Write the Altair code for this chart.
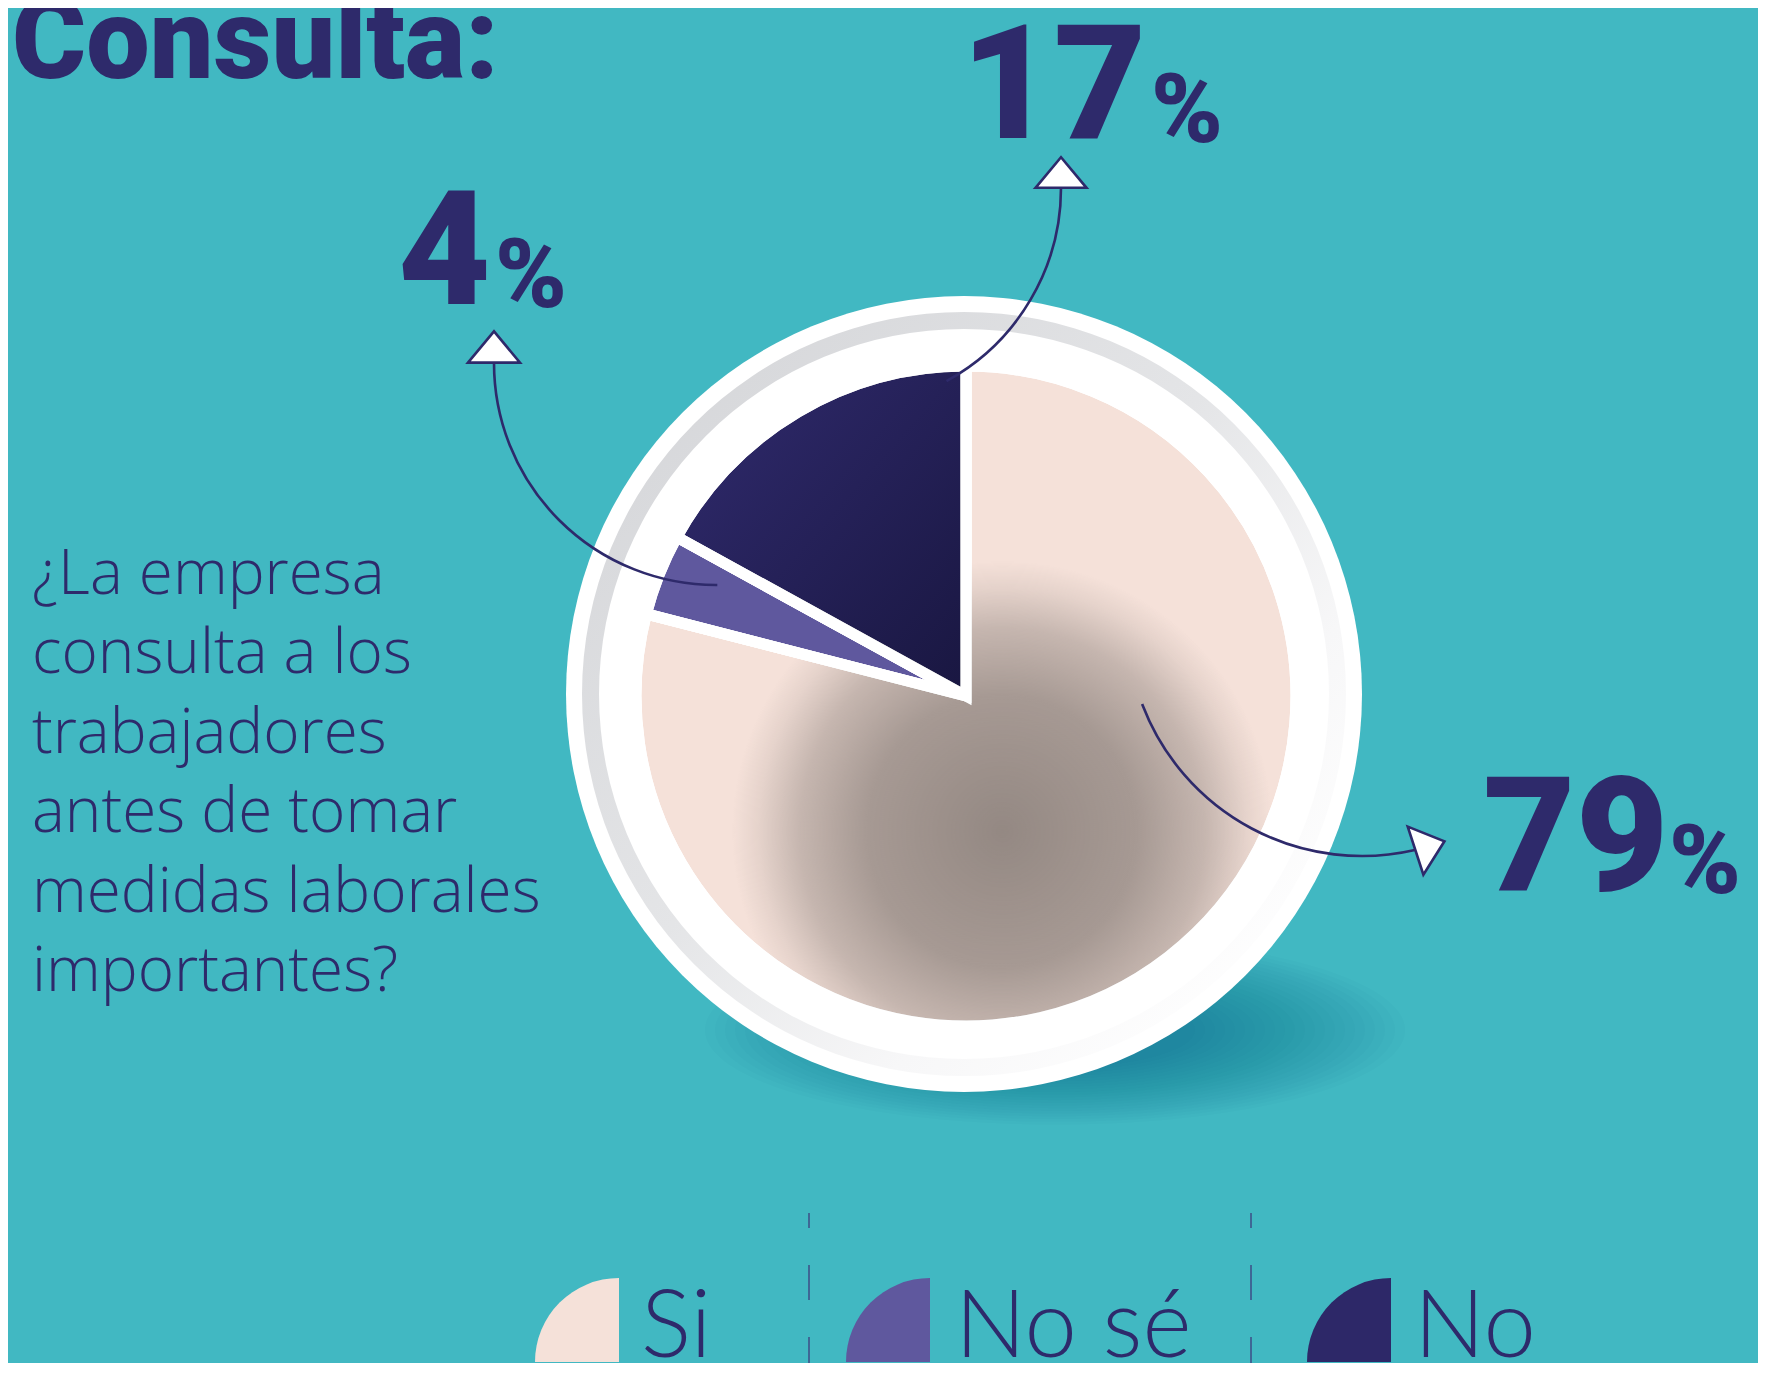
import math
import altair as alt
import pandas as pd

# ---------------- data ----------------
respuestas = ["Si", "No sé", "No"]
porcentajes = [79, 4, 17]
colores = ["#F5E1D9", "#5F589E", "#2D2868"]
titulo = "Consulta:"
pregunta = ["¿La empresa", "consulta a los", "trabajadores",
            "antes de tomar", "medidas laborales", "importantes?"]

# ---------------- layout / style ----------------
BG = "#41B8C2"
NAVY = "#2E2A6B"
W, H = 1750, 1355
OFF = 8
HEAVY = "Roboto"


def px(v):
    return v - OFF


def rad(d):
    return d * math.pi / 180.0


CX, CY = 966, 696          # pie centre (page px)
PIE_R = 330
TRI = "M-1,0.6L0,-0.6L1,0.6Z"
ELLIPSE = "M-1,0A1,0.27,0,1,1,1,0A1,0.27,0,1,1,-1,0Z"

pie_df = pd.DataFrame({"respuesta": respuestas,
                       "porcentaje": porcentajes,
                       "orden": list(range(len(respuestas)))})
one = pd.DataFrame({"k": [0]})

color_scale = alt.Scale(domain=respuestas, range=colores)
layers = []

# soft shadow under the plate: nested translucent ellipses
for i in range(22):
    semi = 350 - 10 * i
    layers.append(alt.Chart(one).mark_point(
        shape=ELLIPSE, size=(2 * semi) ** 2, filled=True,
        fill="#14606B", opacity=0.023, strokeWidth=0).encode(
        x=alt.value(px(1055)), y=alt.value(px(1030))))

# white plate
layers.append(alt.Chart(one).mark_arc(
    fill="white", radius=398, theta=0, theta2=2 * math.pi).encode(
    x=alt.value(px(964)), y=alt.value(px(694))))

# grey ring
ring_grad = {"gradient": "linear", "x1": 0.1, "y1": 0.1, "x2": 0.9, "y2": 0.9,
             "stops": [{"offset": 0, "color": "#D6D7DA"},
                       {"offset": 0.45, "color": "#E4E5E7"},
                       {"offset": 0.75, "color": "#F7F7F8"},
                       {"offset": 1, "color": "#FFFFFF"}]}
layers.append(alt.Chart(one).mark_arc(
    fill=ring_grad, radius=382, radius2=365, theta=0, theta2=2 * math.pi).encode(
    x=alt.value(px(964)), y=alt.value(px(694))))

# pie
theta_enc = alt.Theta("porcentaje:Q", stack=True)
layers.append(alt.Chart(pie_df).mark_arc(
    radius=PIE_R, stroke="white", strokeWidth=11).encode(
    theta=theta_enc,
    color=alt.Color("respuesta:N", scale=color_scale, legend=None),
    order=alt.Order("orden:Q"),
    x=alt.value(px(CX)), y=alt.value(px(CY))))

# grain shading
grad_si = {"gradient": "radial", "x1": 0.555, "y1": 0.705, "r1": 0,
           "x2": 0.555, "y2": 0.705, "r2": 0.41,
           "stops": [{"offset": 0, "color": "rgba(88,82,78,0.62)"},
                     {"offset": 0.5, "color": "rgba(88,82,78,0.5)"},
                     {"offset": 0.75, "color": "rgba(88,82,78,0.3)"},
                     {"offset": 0.9, "color": "rgba(88,82,78,0.1)"},
                     {"offset": 1, "color": "rgba(88,82,78,0)"}]}
grad_no = {"gradient": "linear", "x1": 0.15, "y1": 0.15, "x2": 1, "y2": 1,
           "stops": [{"offset": 0, "color": "rgba(5,5,25,0)"},
                     {"offset": 1, "color": "rgba(5,5,25,0.5)"}]}
layers.append(alt.Chart(pie_df).mark_arc(
    radius=PIE_R, stroke="white", strokeWidth=11).encode(
    theta=theta_enc,
    order=alt.Order("orden:Q"),
    fill=alt.when(alt.datum.respuesta == "Si").then(alt.value(grad_si))
    .when(alt.datum.respuesta == "No").then(alt.value(grad_no))
    .otherwise(alt.value("transparent")),
    x=alt.value(px(CX)), y=alt.value(px(CY))))

# arrows (arc curves + triangle heads)
arrows = [
    # centre x, centre y, radius, theta from, theta to
    (841, 188, 220, 90, 151),
    (716, 363, 222, 180, 270),
    (1362, 621, 235, 167, 249),
]
for ax_, ay_, r_, t1, t2 in arrows:
    layers.append(alt.Chart(one).mark_arc(
        radius=r_, radius2=r_ - 0.01, theta=rad(t1), theta2=rad(t2),
        fillOpacity=0, stroke=NAVY, strokeWidth=2.6, strokeCap="round").encode(
        x=alt.value(px(ax_)), y=alt.value(px(ay_))))

heads = [
    (1061, 172.5, 2601, 0),
    (494, 347, 2704, 0),
    (1430, 846, 2560, 72),
]
for hx, hy, hs, ha in heads:
    layers.append(alt.Chart(one).mark_point(
        shape=TRI, size=hs, angle=ha, filled=True, fill="white",
        stroke=NAVY, strokeWidth=2.6, opacity=1).encode(
        x=alt.value(px(hx)), y=alt.value(px(hy))))

# title
layers.append(alt.Chart(one).mark_text(
    text=titulo, font=HEAVY, fontWeight=900, fontSize=113, color=NAVY,
    align="left", baseline="alphabetic").encode(
    x=alt.value(px(12)), y=alt.value(px(78))))

# question
layers.append(alt.Chart(one).mark_text(
    text=pregunta, font="Open Sans", fontWeight=300, fontSize=62, color=NAVY,
    align="left", baseline="alphabetic", lineHeight=79.4).encode(
    x=alt.value(px(32)), y=alt.value(px(594))))

# percentage labels
num_pos = {"Si": (1483, 890, 1669, 893),
           "No sé": (398, 304, 495, 307),
           "No": (961, 138, 1151, 142)}
for cat, val in zip(respuestas, porcentajes):
    nx, ny, qx, qy = num_pos[cat]
    layers.append(alt.Chart(one).mark_text(
        text=str(val), font=HEAVY, fontWeight=900, fontSize=160, color=NAVY,
        align="left", baseline="alphabetic").encode(
        x=alt.value(px(nx)), y=alt.value(px(ny))))
    layers.append(alt.Chart(one).mark_text(
        text="%", font=HEAVY, fontWeight=900, fontSize=97, color=NAVY,
        align="left", baseline="alphabetic").encode(
        x=alt.value(px(qx)), y=alt.value(px(qy))))

# legend
LEG_BASE = 1362
leg_pos = {"Si": (619, 641), "No sé": (930, 955), "No": (1391, 1414)}
for cat in respuestas:
    sx, lx = leg_pos[cat]
    sub = alt.Chart(pie_df).transform_filter(alt.datum.respuesta == cat)
    layers.append(sub.mark_arc(
        radius=84, theta=1.5 * math.pi, theta2=2 * math.pi).encode(
        color=alt.Color("respuesta:N", scale=color_scale, legend=None),
        x=alt.value(px(sx)), y=alt.value(px(LEG_BASE))))
    layers.append(sub.mark_text(
        font="Lato", fontWeight=300, fontSize=94, color=NAVY,
        align="left", baseline="alphabetic").encode(
        text="respuesta:N",
        x=alt.value(px(lx)), y=alt.value(px(LEG_BASE - 5))))

for sep_x in (809, 1251):
    layers.append(alt.Chart(one).mark_rule(
        stroke="#3E4C86", strokeWidth=1.5, strokeDash=[35, 37],
        strokeDashOffset=20).encode(
        x=alt.value(px(sep_x)), y=alt.value(px(1213)), y2=alt.value(px(1375))))

chart = alt.layer(*layers).properties(
    width=W, height=H, background=BG, padding=0,
    autosize=alt.AutoSizeParams(type="none"),
).configure_view(stroke=None)

chart.save("out.html", embed_options={"renderer": "svg", "actions": False})
